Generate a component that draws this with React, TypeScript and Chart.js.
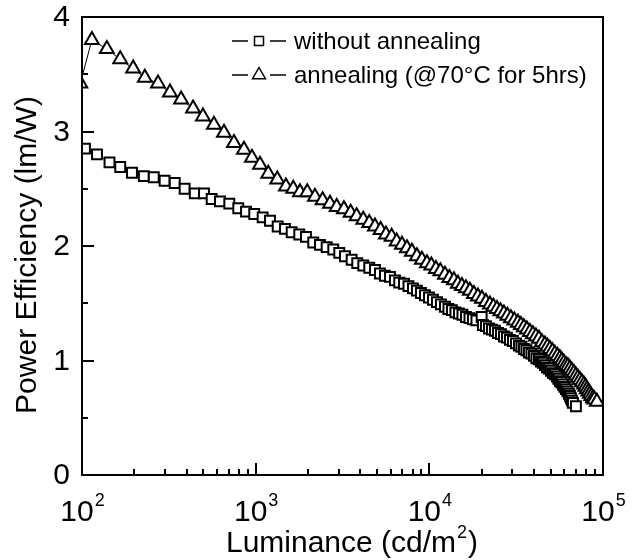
import React, { useEffect, useRef } from "react";
import { Chart, registerables } from "chart.js";

Chart.register(...registerables);

// ---------------- data ----------------
const lumWithout = [
  104, 122, 144, 166, 194, 227, 259, 299, 342, 390,
  446, 504, 558, 623, 705, 794, 880, 981, 1097, 1209,
  1339, 1475, 1612, 1782, 1948, 2146, 2346, 2563, 2798, 3029,
  3267, 3570, 3845, 4165, 4508, 4863, 5194, 5550, 5933, 6339,
  6710, 7142, 7581, 8047, 8483, 8945, 9434, 9947, 10490, 11060,
  11660, 12300, 12880, 13490, 14130, 14810, 15510, 16250, 17020, 17820,
  18670, 20010, 20350, 21180, 22040, 22930, 23860, 24830, 25840, 26890,
  27980, 29110, 30290, 31520, 32800, 33890, 35040, 36220, 37440, 38700,
  40010, 41350, 42760, 43910, 45080, 46300, 47530, 48810, 50120, 51460,
  52850, 54270, 55350, 56470, 57600, 58750, 59940, 61140, 62370, 63630,
  64480, 65340, 66210, 67100, 69820,
];
const peWithout = [
  2.85, 2.8, 2.73, 2.69, 2.64, 2.61, 2.6, 2.57, 2.55, 2.5,
  2.46, 2.46, 2.41, 2.39, 2.37, 2.33, 2.3, 2.28, 2.25, 2.22,
  2.17, 2.15, 2.12, 2.1, 2.08, 2.03, 2.01, 1.99, 1.97, 1.94,
  1.91, 1.88, 1.85, 1.83, 1.81, 1.79, 1.76, 1.74, 1.73, 1.7,
  1.68, 1.67, 1.65, 1.63, 1.61, 1.59, 1.57, 1.55, 1.53, 1.51,
  1.49, 1.47, 1.45, 1.44, 1.42, 1.41, 1.4, 1.38, 1.37, 1.36,
  1.35, 1.38, 1.31, 1.3, 1.28, 1.27, 1.26, 1.24, 1.23, 1.21,
  1.2, 1.18, 1.17, 1.15, 1.13, 1.12, 1.1, 1.09, 1.07, 1.06,
  1.04, 1.02, 1.01, 0.99, 0.98, 0.96, 0.94, 0.93, 0.91, 0.89,
  0.88, 0.86, 0.84, 0.82, 0.81, 0.79, 0.77, 0.75, 0.73, 0.71,
  0.69, 0.67, 0.65, 0.63, 0.6,
];
const lumAnnealed = [
  97.8, 114, 139, 166, 197, 230, 274, 321, 372, 436,
  497, 575, 657, 750, 856, 952, 1059, 1182, 1332, 1494,
  1646, 1799, 1982, 2195, 2430, 2678, 2927, 3224, 3524, 3815,
  4165, 4508, 4863, 5244, 5626, 6067, 6484, 6956, 7432, 7940,
  8483, 9064, 9687, 10280, 10910, 11580, 12300, 13050, 13860, 14610,
  15410, 16250, 17130, 18060, 19050, 20090, 21180, 22340, 23390, 24500,
  25670, 26890, 28160, 29500, 30900, 32360, 33680, 35040, 36470, 37950,
  39490, 41100, 42760, 44490, 46300, 47860, 49470, 51140, 52850, 54640,
  56470, 58000, 59550, 61140, 62800, 64480, 66210, 68000, 69820, 71700,
  73620, 75590, 77620, 79200, 80780, 82410, 84060, 85750, 87490, 89240,
  92250,
];
const peAnnealed = [
  3.42, 3.8, 3.72, 3.63, 3.55, 3.47, 3.42, 3.34, 3.28, 3.2,
  3.13, 3.06, 2.99, 2.9, 2.84, 2.77, 2.71, 2.63, 2.58, 2.52,
  2.5, 2.47, 2.47, 2.43, 2.4, 2.37, 2.34, 2.32, 2.29, 2.26,
  2.23, 2.2, 2.17, 2.14, 2.1, 2.08, 2.04, 2.01, 1.98, 1.95,
  1.91, 1.88, 1.85, 1.83, 1.8, 1.78, 1.75, 1.72, 1.7, 1.67,
  1.65, 1.63, 1.61, 1.58, 1.56, 1.54, 1.51, 1.49, 1.47, 1.45,
  1.43, 1.41, 1.39, 1.37, 1.35, 1.33, 1.31, 1.29, 1.27, 1.25,
  1.23, 1.21, 1.19, 1.16, 1.14, 1.12, 1.1, 1.08, 1.06, 1.04,
  1.02, 1.0, 0.98, 0.96, 0.95, 0.93, 0.91, 0.89, 0.87, 0.85,
  0.83, 0.81, 0.79, 0.77, 0.75, 0.73, 0.71, 0.69, 0.67, 0.66,
  0.64,
];

const seriesLabels = ["without annealing", "annealing (@70°C for 5hrs)"];
const yMajorTicks = [0, 1, 2, 3, 4];
const yMinorTicks = [0.5, 1.5, 2.5, 3.5];
const xDecadeExponents = [2, 3, 4, 5];
const xMinorMultipliers = [2, 3, 4, 5, 6, 7, 8, 9];
const xTitleMain = "Luminance (cd/m";
const xTitleSup = "2";
const xTitleEnd = ")";
const yTitle = "Power Efficiency (lm/W)";

// ---------------- layout / style ----------------
const W = 634;
const H = 560;
const FONT = '"Liberation Sans", Arial, Helvetica, sans-serif';

const decorPlugin = {
  id: "decor",
  afterDraw(chart: any) {
    const ctx: CanvasRenderingContext2D = chart.ctx;
    const { left, right, top, bottom } = chart.chartArea;
    const xs = chart.scales.x;
    const ys = chart.scales.y;
    ctx.save();
    ctx.strokeStyle = "#000";
    ctx.fillStyle = "#000";
    ctx.lineWidth = 2;
    ctx.strokeRect(left, top, right - left, bottom - top);

    // ticks (inward)
    ctx.beginPath();
    for (const v of yMajorTicks) {
      const py = Math.round(ys.getPixelForValue(v));
      ctx.moveTo(left, py);
      ctx.lineTo(left + 12, py);
    }
    for (const v of yMinorTicks) {
      const py = Math.round(ys.getPixelForValue(v));
      ctx.moveTo(left, py);
      ctx.lineTo(left + 6, py);
    }
    for (const e of xDecadeExponents) {
      const px = Math.round(xs.getPixelForValue(Math.pow(10, e)));
      ctx.moveTo(px, bottom);
      ctx.lineTo(px, bottom - 12);
      if (e < xDecadeExponents[xDecadeExponents.length - 1]) {
        for (const m of xMinorMultipliers) {
          const pm = Math.round(xs.getPixelForValue(m * Math.pow(10, e)));
          ctx.moveTo(pm, bottom);
          ctx.lineTo(pm, bottom - 6);
        }
      }
    }
    ctx.stroke();

    // y tick labels
    ctx.font = `30px ${FONT}`;
    ctx.textAlign = "right";
    ctx.textBaseline = "middle";
    for (const v of yMajorTicks) {
      ctx.fillText(String(v), left - 12, ys.getPixelForValue(v) + 1);
    }

    // x tick labels 10^n
    ctx.textAlign = "left";
    ctx.textBaseline = "alphabetic";
    for (const e of xDecadeExponents) {
      const px = xs.getPixelForValue(Math.pow(10, e));
      ctx.font = `30px ${FONT}`;
      const wBase = ctx.measureText("10").width;
      ctx.font = `18px ${FONT}`;
      const wSup = ctx.measureText(String(e)).width;
      const x0 = px - (wBase + wSup) / 2;
      ctx.font = `30px ${FONT}`;
      ctx.fillText("10", x0, 521);
      ctx.font = `18px ${FONT}`;
      ctx.fillText(String(e), x0 + wBase + 1, 506);
    }

    // x title
    ctx.font = `30px ${FONT}`;
    const wMain = ctx.measureText(xTitleMain).width;
    const wEnd = ctx.measureText(xTitleEnd).width;
    ctx.font = `18px ${FONT}`;
    const wS = ctx.measureText(xTitleSup).width;
    const tx0 = 351 - (wMain + wS + wEnd) / 2;
    ctx.font = `30px ${FONT}`;
    ctx.fillText(xTitleMain, tx0, 552);
    ctx.font = `18px ${FONT}`;
    ctx.fillText(xTitleSup, tx0 + wMain + 1, 538);
    ctx.font = `30px ${FONT}`;
    ctx.fillText(xTitleEnd, tx0 + wMain + wS + 2, 552);

    // y title
    ctx.save();
    ctx.translate(28, 255);
    ctx.rotate(-Math.PI / 2);
    ctx.textAlign = "center";
    ctx.textBaseline = "middle";
    ctx.font = `30px ${FONT}`;
    ctx.fillText(yTitle, 0, 0);
    ctx.restore();

    // legend
    const rows = [41, 75];
    chart.data.datasets.forEach((ds: any, i: number) => {
      const y = rows[i];
      ctx.lineWidth = 1.5;
      ctx.beginPath();
      ctx.moveTo(232, y);
      ctx.lineTo(248, y);
      ctx.moveTo(270, y);
      ctx.lineTo(286, y);
      ctx.stroke();
      ctx.fillStyle = "#fff";
      ctx.beginPath();
      if (ds.pointStyle === "rect") {
        ctx.rect(254.5, y - 4.5, 9, 9);
      } else {
        const r = 7.5;
        ctx.moveTo(259, y - r);
        ctx.lineTo(259 + r * 0.866, y + r * 0.5);
        ctx.lineTo(259 - r * 0.866, y + r * 0.5);
        ctx.closePath();
      }
      ctx.fill();
      ctx.stroke();
      ctx.fillStyle = "#000";
      ctx.font = `24px ${FONT}`;
      ctx.textAlign = "left";
      ctx.textBaseline = "middle";
      ctx.fillText(seriesLabels[i], 294, y + 1);
    });
    ctx.restore();
  },
};

export default function App() {
  const ref = useRef<HTMLCanvasElement | null>(null);
  useEffect(() => {
    if (!ref.current) return;
    const chart = new Chart(ref.current, {
      type: "scatter",
      data: {
        datasets: [
          {
            label: seriesLabels[0],
            data: lumWithout.map((x, i) => ({ x, y: peWithout[i] })),
            showLine: true,
            borderColor: "#000",
            borderWidth: 1,
            pointStyle: "rect",
            pointRadius: 7,
            pointBorderWidth: 2,
            pointBorderColor: "#000",
            pointBackgroundColor: "#fff",
            order: 2,
          },
          {
            label: seriesLabels[1],
            data: lumAnnealed.map((x, i) => ({ x, y: peAnnealed[i] })),
            showLine: true,
            borderColor: "#000",
            borderWidth: 1,
            pointStyle: "triangle",
            pointRadius: 8,
            pointBorderWidth: 2,
            pointBorderColor: "#000",
            pointBackgroundColor: "#fff",
            order: 1,
          },
        ],
      },
      options: {
        responsive: false,
        animation: false,
        devicePixelRatio: 1,
        events: [],
        layout: { autoPadding: false, padding: { left: 0, top: 17, right: 31, bottom: 0 } },
        plugins: { legend: { display: false }, tooltip: { enabled: false } },
        scales: {
          x: {
            type: "logarithmic",
            min: 100,
            max: 100000,
            grid: { display: false },
            border: { display: false },
            ticks: { display: false },
            afterFit: (s: any) => {
              s.height = 85;
            },
          },
          y: {
            type: "linear",
            min: 0,
            max: 4,
            grid: { display: false },
            border: { display: false },
            ticks: { display: false },
            afterFit: (s: any) => {
              s.width = 82;
            },
          },
        },
      } as any,
      plugins: [decorPlugin],
    });
    return () => chart.destroy();
  }, []);
  return (
    <div style={{ position: "fixed", left: 0, top: 0, width: W, height: H, background: "#fff" }}>
      <canvas ref={ref} width={W} height={H} style={{ display: "block" }} />
    </div>
  );
}
